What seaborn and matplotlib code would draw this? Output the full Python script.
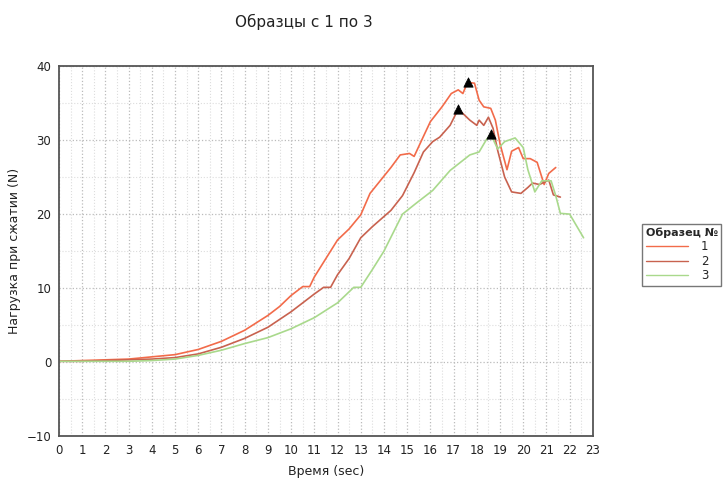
import numpy as np
import pandas as pd
import seaborn as sns
import matplotlib.pyplot as plt
from matplotlib.ticker import MultipleLocator

# sample 1 (orange)
t1 = [0, 1, 2, 3, 4, 5, 6, 7, 8, 9, 9.5, 10, 10.5, 10.8, 11, 11.5, 12, 12.5, 13, 13.4,
      14.3, 14.7, 15.1, 15.3, 15.7, 16.0, 16.5, 16.9, 17.2, 17.4, 17.6, 17.9, 18.1, 18.3, 18.6,
      18.8, 19.0, 19.3, 19.5, 19.8, 20.0, 20.3, 20.6, 20.9, 21.1, 21.4]
n1 = [0.1, 0.2, 0.3, 0.4, 0.7, 1.0, 1.7, 2.8, 4.3, 6.3, 7.5, 9.0, 10.2, 10.2, 11.5, 14.0,
      16.5, 18.0, 19.9, 22.8, 26.3, 28.0, 28.2, 27.8, 30.5, 32.5, 34.5, 36.3, 36.8, 36.3, 37.8,
      37.7, 35.4, 34.5, 34.3, 32.7, 29.5, 26.0, 28.5, 29.0, 27.5, 27.5, 27.0, 24.0, 25.5, 26.3]

# sample 2 (brown-red)
t2 = [0, 1, 2, 3, 4, 5, 6, 7, 8, 9, 10, 10.5, 11, 11.4, 11.7, 12, 12.5, 13, 13.5, 14.3,
      14.8, 15.3, 15.7, 16.1, 16.4, 16.85, 17.2, 17.7, 18.0, 18.1, 18.3, 18.5, 18.7,
      18.9, 19.2, 19.5, 19.9, 20.2, 20.4, 20.7, 21.1, 21.3, 21.6]
n2 = [0.1, 0.1, 0.2, 0.3, 0.4, 0.6, 1.1, 2.0, 3.2, 4.7, 6.8, 8.0, 9.2, 10.1, 10.1, 11.8,
      14.0, 16.8, 18.3, 20.5, 22.5, 25.6, 28.4, 29.8, 30.4, 32.0, 34.2, 32.7, 32.0,
      32.7, 32.0, 33.1, 31.6, 28.6, 25.0, 23.0, 22.8, 23.6, 24.2, 24.0, 24.6, 22.6, 22.3]

# sample 3 (green)
t3 = [0, 1, 2, 3, 4, 5, 6, 7, 8, 9, 10, 11, 12, 12.7, 13.0, 13.5, 14, 14.8, 15.4, 16.1,
      16.85, 17.7, 18.1, 18.4, 18.6, 18.9, 19.2, 19.65, 20.0, 20.2, 20.5,
      20.8, 21.2, 21.4, 21.6, 22.0, 22.6]
n3 = [0.1, 0.1, 0.1, 0.1, 0.2, 0.4, 0.9, 1.6, 2.5, 3.3, 4.5, 6.0, 8.0, 10.1, 10.1, 12.5,
      15.0, 20.0, 21.5, 23.2, 25.9, 28.0, 28.4, 30.0, 30.8, 28.8, 29.8,
      30.3, 29.0, 26.0, 23.0, 24.5, 24.5, 22.5, 20.1, 20.0, 16.8]

# peak markers
peak_t = [17.6, 17.2, 18.6]
peak_n = [37.8, 34.2, 30.8]

samples = ['1', '2', '3']
colors = ['#f26b4a', '#c8624f', '#a9d98c']

df = pd.concat([
    pd.DataFrame({'t': t1, 'n': n1, 's': '1'}),
    pd.DataFrame({'t': t2, 'n': n2, 's': '2'}),
    pd.DataFrame({'t': t3, 'n': n3, 's': '3'}),
])

sns.set_style('white')
plt.rcParams['font.family'] = ['DejaVu Sans']

fig = plt.figure(figsize=(7.23, 4.83), dpi=100)
ax = fig.add_axes([0.0816, 0.0973, 0.7384, 0.7657])

sns.lineplot(data=df, x='t', y='n', hue='s', hue_order=samples,
             palette=colors, sort=False, linewidth=1.2, ax=ax)
sns.scatterplot(x=peak_t, y=peak_n, marker='^', color='black', s=45,
                edgecolor='black', zorder=5, ax=ax, legend=False)

ax.set_xlim(0, 23)
ax.set_ylim(-10, 40)
ax.xaxis.set_major_locator(MultipleLocator(1))
ax.xaxis.set_minor_locator(MultipleLocator(0.5))
ax.yaxis.set_major_locator(MultipleLocator(10))
ax.yaxis.set_minor_locator(MultipleLocator(5))
ax.tick_params(which='major', direction='inout', length=7, width=1, colors='#444444',
               labelsize=8.5, labelcolor='#222222', pad=2)
ax.tick_params(which='minor', direction='inout', length=5, width=1, colors='#444444')
ax.grid(which='major', linestyle=':', color='#bbbbbb', linewidth=0.9)
ax.grid(which='minor', linestyle=':', color='#dddddd', linewidth=0.8)
for sp in ax.spines.values():
    sp.set_color('#555555')
    sp.set_linewidth(1.3)

ax.set_xlabel('Время (sec)', fontsize=9, color='#222222', labelpad=6)
ax.set_ylabel('Нагрузка при сжатии (N)', fontsize=9, color='#222222', labelpad=4)
fig.text(0.42, 0.955, 'Образцы с 1 по 3', fontsize=11, ha='center', va='center',
         color='#222222')

handles, labels = ax.get_legend_handles_labels()
leg = fig.legend(handles, labels, title='Образец №', loc='upper left',
                 bbox_to_anchor=(0.888, 0.536), fontsize=8.5,
                 title_fontproperties={'size': 8, 'weight': 'bold'},
                 frameon=True, fancybox=False, edgecolor='#555555',
                 handlelength=3.6, borderpad=0.3,
                 labelspacing=0.15, handletextpad=1.1, borderaxespad=0)
leg.get_frame().set_linewidth(1.0)
for line in leg.get_lines():
    line.set_linewidth(1.0)
leg._legend_box.align = 'left'
ax.get_legend().remove()

fig.savefig('out.png', dpi=100)
